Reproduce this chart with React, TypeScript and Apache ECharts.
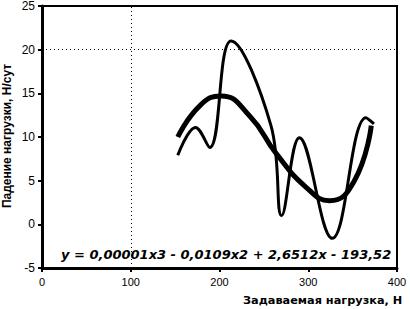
import React, { useEffect, useRef } from "react";
import * as echarts from "echarts";

const xTicks = [0, 100, 200, 300, 400];
const yTicks = [-5, 0, 5, 10, 15, 20, 25];

const measuredX = [153, 173, 189, 213, 258, 270, 290, 327, 365, 374];
const measuredY = [7.9, 11.1, 8.8, 21.0, 11.3, 1.0, 9.9, -1.6, 12.2, 11.5];

const trendX = [153, 178, 202, 234, 264, 297, 324, 352, 371];
const trendY = [10.0, 13.6, 14.7, 12.4, 8.1, 4.3, 2.7, 5.0, 11.3];

const gridX = [100];
const gridY = [20];

const yAxisTitle = "Падение нагрузки, Н/сут";
const xAxisTitle = "Задаваемая нагрузка, Н";
const equation = "y = 0,00001x3 - 0,0109x2 + 2,6512x - 193,52";

export default function App() {
  const ref = useRef<HTMLDivElement>(null);
  useEffect(() => {
    if (!ref.current) return;
    const chart = echarts.init(ref.current, undefined, { renderer: "svg" });
    const font = "Liberation Sans, Arial, sans-serif";
    const wide = "DejaVu Sans, sans-serif";
    chart.setOption({
      animation: false,
      backgroundColor: "#ffffff",
      grid: {
        left: 42,
        top: 5,
        right: 13,
        bottom: 41,
        show: true,
        borderColor: "#000",
        borderWidth: 2,
        backgroundColor: "transparent",
      },
      xAxis: {
        type: "value",
        min: xTicks[0],
        max: xTicks[xTicks.length - 1],
        interval: 100,
        axisLine: { show: true, onZero: false, lineStyle: { color: "#000", width: 3 } },
        axisTick: { show: true, length: 4, lineStyle: { color: "#000", width: 2 } },
        axisLabel: { color: "#000", fontSize: 11, fontFamily: font, margin: 8 },
        splitLine: { show: false },
      },
      yAxis: {
        type: "value",
        min: yTicks[0],
        max: yTicks[yTicks.length - 1],
        interval: 5,
        axisLine: { show: true, onZero: false, lineStyle: { color: "#000", width: 3 } },
        axisTick: { show: true, length: 4, lineStyle: { color: "#000", width: 2 } },
        axisLabel: { color: "#000", fontSize: 12, fontFamily: font, margin: 7 },
        splitLine: { show: false },
      },
      graphic: [
        {
          type: "text",
          x: 7,
          y: 136,
          rotation: Math.PI / 2,
          style: {
            text: yAxisTitle,
            fill: "#000",
            font: `bold 12px ${font}`,
            textAlign: "center",
            textVerticalAlign: "middle",
          },
        },
        {
          type: "text",
          x: 243,
          y: 300,
          style: {
            text: xAxisTitle,
            fill: "#000",
            font: `bold 11.3px ${wide}`,
            textAlign: "left",
            textVerticalAlign: "middle",
          },
        },
        {
          type: "text",
          x: 61,
          y: 254,
          z: 100,
          style: {
            text: equation,
            fill: "#000",
            font: `italic bold 13px ${wide}`,
            textAlign: "left",
            textVerticalAlign: "middle",
          },
        },
      ],
      series: [
        {
          type: "line",
          data: measuredX.map((x, i) => [x, measuredY[i]]),
          smooth: 0.4,
          showSymbol: false,
          lineStyle: { color: "#000", width: 3 },
          markLine: {
            silent: true,
            symbol: "none",
            label: { show: false },
            lineStyle: { color: "#000", width: 1, type: [1, 3] },
            data: [
              ...gridX.map((v) => ({ xAxis: v })),
              ...gridY.map((v) => ({ yAxis: v })),
            ],
          },
        },
        {
          type: "line",
          data: trendX.map((x, i) => [x, trendY[i]]),
          smooth: 0.5,
          showSymbol: false,
          lineStyle: { color: "#000", width: 5 },
        },
      ],
    });
    return () => chart.dispose();
  }, []);
  return <div ref={ref} style={{ width: 410, height: 309, position: "absolute", left: 0, top: 0 }} />;
}
